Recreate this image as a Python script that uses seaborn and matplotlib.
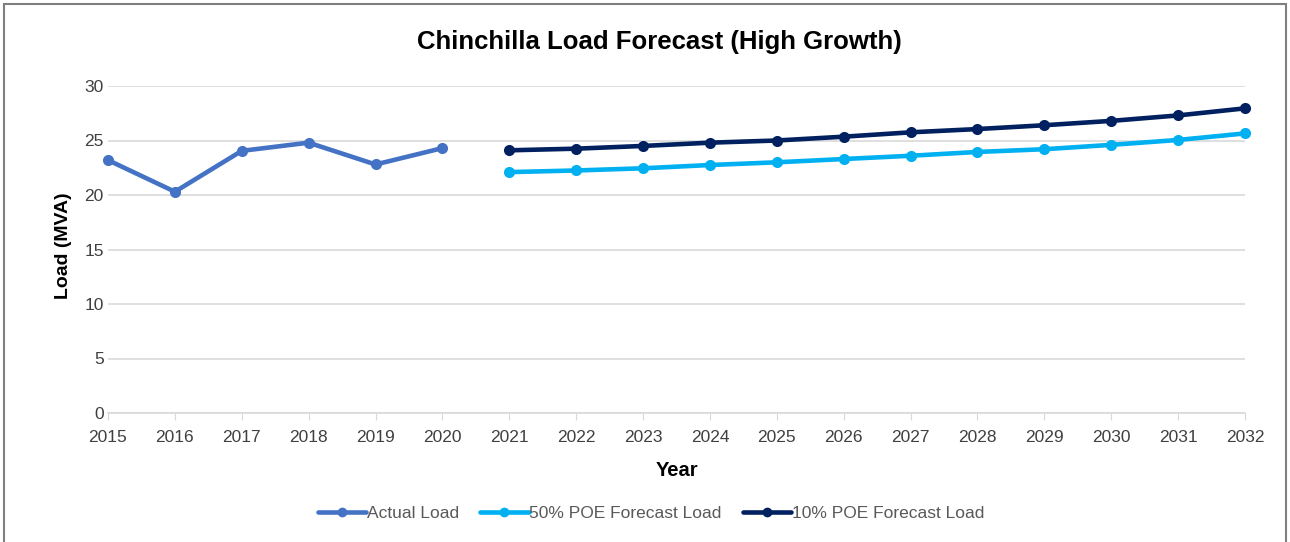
import numpy as np
import pandas as pd
import matplotlib
matplotlib.use("Agg")
import matplotlib.pyplot as plt
import seaborn as sns
from matplotlib.patches import Rectangle

years_actual = [2015, 2016, 2017, 2018, 2019, 2020]
actual_load = [23.2, 20.3, 24.05, 24.8, 22.8, 24.3]
years_forecast = list(range(2021, 2033))
poe50_load = [22.1, 22.25, 22.45, 22.75, 23.0, 23.3, 23.6, 23.95, 24.2, 24.6, 25.05, 25.65]
poe10_load = [24.1, 24.25, 24.5, 24.8, 25.0, 25.35, 25.75, 26.05, 26.4, 26.8, 27.3, 27.95]
series_names = ["Actual Load", "50% POE Forecast Load", "10% POE Forecast Load"]
series_colors = ["#4472C4", "#00B0F0", "#002060"]
year_ticks = list(range(2015, 2033))
y_ticks = [0, 5, 10, 15, 20, 25, 30]

df = pd.concat([
    pd.DataFrame({"Year": years_actual, "Load": actual_load, "Series": series_names[0]}),
    pd.DataFrame({"Year": years_forecast, "Load": poe50_load, "Series": series_names[1]}),
    pd.DataFrame({"Year": years_forecast, "Load": poe10_load, "Series": series_names[2]}),
])

sns.set_style("white")
plt.rcParams["font.family"] = ["Liberation Sans", "DejaVu Sans"]

fig = plt.figure(figsize=(12.9, 5.42), dpi=100)
ax = fig.add_axes([108 / 1290, 1 - 413 / 542, (1245 - 108) / 1290, (413 - 86) / 542])

sns.lineplot(data=df, x="Year", y="Load", hue="Series", hue_order=series_names,
             palette=dict(zip(series_names, series_colors)), marker="o",
             markersize=8, markeredgewidth=0, linewidth=3.3, ax=ax, legend=False)
for ln in ax.lines:
    ln.set_clip_on(False)

ax.set_xlim(2015, 2032)
ax.set_ylim(0, 30)
ax.set_xticks(year_ticks)
ax.set_xticklabels([str(y) for y in year_ticks])
ax.set_yticks(y_ticks)
ax.yaxis.grid(True, color="#D9D9D9", linewidth=1.2)
ax.set_axisbelow(True)
for s in ["top", "right", "left"]:
    ax.spines[s].set_visible(False)
ax.spines["bottom"].set_color("#D9D9D9")
ax.spines["bottom"].set_linewidth(1.2)
ax.tick_params(axis="x", length=5, color="#D9D9D9", labelsize=12.5, labelcolor="#404040", pad=7, direction="out")
ax.tick_params(axis="y", length=0, labelsize=12.5, labelcolor="#404040", pad=3)
ax.xaxis.set_ticks_position("bottom")

ax.set_xlabel("Year", fontsize=14.5, fontweight="bold", labelpad=12, color="#000000")
ax.set_ylabel("Load (MVA)", fontsize=14, fontweight="bold", color="#000000")
ax.yaxis.set_label_coords(-36 / 1137, (413 - 245.5) / 327)
fig.text(659 / 1290, 1 - 42 / 542, "Chinchilla Load Forecast (High Growth)", ha="center", va="center",
         fontsize=18.5, fontweight="bold", color="#000000")

handles = [plt.Line2D([], [], color=c, linewidth=3.3, marker="o", markersize=7, markeredgewidth=0)
           for c in series_colors]
leg = fig.legend(handles, series_names, loc="center", bbox_to_anchor=(651 / 1290, 1 - 513 / 542),
                 ncol=3, frameon=False, fontsize=12.5, handlelength=2.8, handletextpad=0.05,
                 columnspacing=1.2)
for t in leg.get_texts():
    t.set_color("#595959")

fig.patches.append(Rectangle((0.003, -0.01), 0.994, 1.003, transform=fig.transFigure,
                             fill=False, edgecolor="#7F7F7F", linewidth=1.5))

fig.savefig("out.png", dpi=100)
